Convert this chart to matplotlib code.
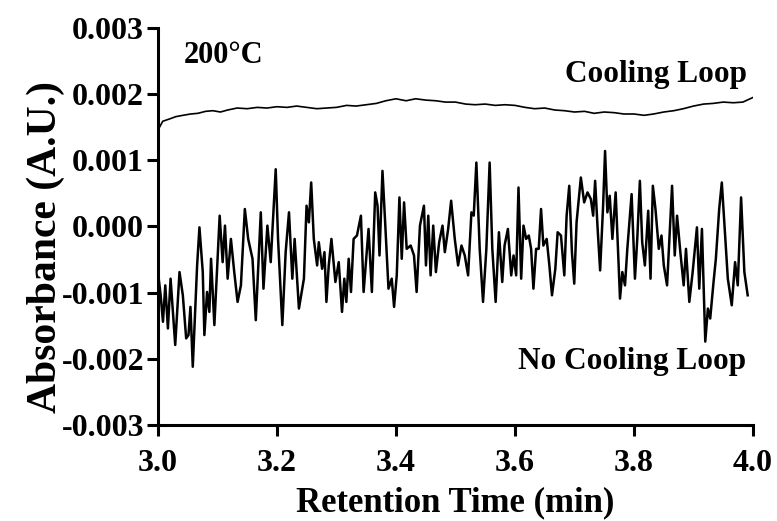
import matplotlib
matplotlib.use("Agg")
import matplotlib.pyplot as plt

# No Cooling Loop trace (time in min, absorbance in milli-A.U.)
t_noisy = [
    3.0000, 3.0045, 3.0084, 3.0123, 3.0167, 3.0212, 3.0251, 3.0290, 3.0362, 3.0418,
    3.0474, 3.0513, 3.0546, 3.0585, 3.0658, 3.0697, 3.0753, 3.0780, 3.0825, 3.0864,
    3.0892, 3.0948, 3.0992, 3.1037, 3.1087, 3.1126, 3.1171, 3.1226, 3.1282, 3.1338,
    3.1394, 3.1460, 3.1516, 3.1589, 3.1644, 3.1728, 3.1773, 3.1839, 3.1895, 3.1979,
    3.2018, 3.2090, 3.2146, 3.2202, 3.2258, 3.2297, 3.2369, 3.2453, 3.2497, 3.2536,
    3.2575, 3.2619, 3.2675, 3.2703, 3.2759, 3.2798, 3.2831, 3.2870, 3.2915, 3.2982,
    3.3038, 3.3093, 3.3132, 3.3166, 3.3205, 3.3244, 3.3288, 3.3344, 3.3411, 3.3456,
    3.3539, 3.3595, 3.3651, 3.3690, 3.3723, 3.3773, 3.3818, 3.3874, 3.3929, 3.3968,
    3.4013, 3.4058, 3.4097, 3.4136, 3.4180, 3.4247, 3.4303, 3.4347, 3.4403, 3.4470,
    3.4504, 3.4543, 3.4582, 3.4626, 3.4671, 3.4726, 3.4782, 3.4821, 3.4877, 3.4927,
    3.4988, 3.5044, 3.5101, 3.5156, 3.5212, 3.5268, 3.5307, 3.5351, 3.5407, 3.5463,
    3.5519, 3.5574, 3.5619, 3.5675, 3.5730, 3.5786, 3.5825, 3.5881, 3.5937, 3.5976,
    3.6020, 3.6059, 3.6104, 3.6143, 3.6188, 3.6232, 3.6271, 3.6310, 3.6355, 3.6399,
    3.6438, 3.6477, 3.6533, 3.6578, 3.6622, 3.6678, 3.6717, 3.6773, 3.6829, 3.6868,
    3.6912, 3.6957, 3.6996, 3.7035, 3.7107, 3.7163, 3.7219, 3.7275, 3.7314, 3.7347,
    3.7386, 3.7431, 3.7481, 3.7514, 3.7553, 3.7592, 3.7637, 3.7692, 3.7765, 3.7804,
    3.7849, 3.7888, 3.7960, 3.8016, 3.8055, 3.8099, 3.8138, 3.8183, 3.8239, 3.8278,
    3.8317, 3.8361, 3.8417, 3.8462, 3.8501, 3.8556, 3.8595, 3.8640, 3.8685, 3.8724,
    3.8779, 3.8835, 3.8874, 3.8930, 3.8986, 3.9058, 3.9097, 3.9142, 3.9198, 3.9242,
    3.9281, 3.9337, 3.9376, 3.9432, 3.9476, 3.9521, 3.9577, 3.9643, 3.9699, 3.9744,
    3.9800, 3.9855, 3.9911,
]
a_noisy = [
    -0.689, -1.040, -1.440, -0.890, -1.541, -0.789, -1.291, -1.791, -0.689, -1.040,
    -1.691, -1.641, -1.215, -2.120, -0.589, -0.013, -0.689, -1.641, -0.990, -1.291,
    -0.488, -1.490, -0.689, 0.163, -0.539, 0.013, -0.789, -0.188, -0.689, -1.140,
    -0.890, 0.264, -0.188, -0.488, -1.416, 0.214, -0.940, 0.013, -0.539, 0.865,
    -0.188, -1.490, -0.388, 0.214, -0.789, -0.188, -1.241, -0.789, 0.314, 0.063,
    0.665, -0.188, -0.589, -0.238, -0.639, -0.388, -1.140, -0.589, -0.188, -0.839,
    -0.539, -1.291, -0.789, -1.140, -0.488, -0.990, -0.188, -0.137, 0.163, -0.990,
    -0.037, -0.990, 0.515, 0.314, -0.438, 0.840, 0.063, -0.940, -0.789, -1.215,
    -0.739, 0.439, -0.488, 0.364, -0.338, -0.288, -0.438, -0.990, 0.013, 0.314,
    -0.589, 0.163, -0.739, 0.013, -0.689, -0.238, 0.013, -0.388, -0.037, 0.389,
    -0.188, -0.589, -0.288, -0.438, -0.739, 0.214, 0.164, 0.966, -0.338, -1.140,
    -0.338, 0.966, -0.338, -1.140, -0.087, -0.839, -0.288, -0.037, -0.739, -0.438,
    -0.739, 0.589, -0.789, 0.013, -0.188, -0.137, -0.338, -0.940, -0.338, -0.338,
    0.264, -0.288, -0.188, -0.589, -1.040, -0.639, -0.087, -0.137, -0.739, 0.163,
    0.615, -0.388, -0.864, 0.063, 0.740, 0.364, 0.515, 0.414, 0.163, 0.690,
    0.013, -0.664, 0.314, 1.141, 0.214, 0.464, -0.188, 0.515, -1.090, -0.689,
    -0.890, -0.338, 0.489, -0.789, -0.188, 0.690, -0.238, -0.589, 0.238, -0.789,
    0.615, 0.264, -0.338, -0.137, -0.589, -0.890, -0.188, 0.615, -0.438, 0.163,
    -0.388, -0.890, -0.338, -1.140, -0.689, -0.013, -0.940, -0.037, -1.740, -1.241,
    -1.391, -0.839, -0.488, 0.264, 0.665, 0.013, -0.789, -1.191, -0.539, -0.890,
    0.439, -0.689, -1.040,
]

# Cooling Loop trace (time in min, absorbance in milli-A.U.)
t_cool = [
    3.000, 3.002, 3.008, 3.021, 3.030, 3.042, 3.055, 3.067, 3.080, 3.092,
    3.105, 3.117, 3.133, 3.150, 3.167, 3.183, 3.200, 3.217, 3.233, 3.250,
    3.267, 3.283, 3.300, 3.317, 3.333, 3.350, 3.367, 3.383, 3.400, 3.417,
    3.433, 3.450, 3.467, 3.483, 3.500, 3.517, 3.533, 3.550, 3.567, 3.583,
    3.600, 3.617, 3.633, 3.650, 3.667, 3.683, 3.700, 3.717, 3.733, 3.750,
    3.767, 3.783, 3.800, 3.817, 3.833, 3.850, 3.867, 3.883, 3.900, 3.917,
    3.933, 3.950, 3.967, 3.983, 4.000,
]
a_cool = [
    1.42, 1.49, 1.59, 1.63, 1.66, 1.68, 1.70, 1.71, 1.74, 1.75,
    1.73, 1.76, 1.79, 1.78, 1.80, 1.79, 1.81, 1.80, 1.82, 1.80,
    1.78, 1.79, 1.80, 1.83, 1.82, 1.84, 1.86, 1.90, 1.93, 1.90,
    1.93, 1.91, 1.90, 1.88, 1.88, 1.85, 1.84, 1.85, 1.83, 1.84,
    1.83, 1.80, 1.78, 1.79, 1.76, 1.75, 1.73, 1.74, 1.71, 1.73,
    1.72, 1.70, 1.70, 1.68, 1.70, 1.73, 1.75, 1.78, 1.82, 1.85,
    1.86, 1.88, 1.87, 1.88, 1.95,
]

x_ticks = [3.0, 3.2, 3.4, 3.6, 3.8, 4.0]
y_ticks = [-3, -2, -1, 0, 1, 2, 3]
y_tick_labels = ["-0.003", "-0.002", "-0.001", "0.000", "0.001", "0.002", "0.003"]

plt.rcParams["font.family"] = ["Liberation Serif", "DejaVu Serif"]
plt.rcParams["font.weight"] = "bold"

fig = plt.figure(figsize=(7.77, 5.21), dpi=100)
ax = fig.add_axes([0.2033, 0.1843, 0.7658, 0.762])

ax.plot(t_noisy, a_noisy, color="black", lw=1.8)
ax.plot(t_cool, a_cool, color="black", lw=1.2)

ax.set_xlim(3.0, 4.0)
ax.set_ylim(-3, 3)
ax.set_xticks(x_ticks)
ax.set_xticklabels([f"{v:.1f}" for v in x_ticks])
ax.set_yticks(y_ticks)
ax.set_yticklabels(y_tick_labels)

for side in ["top", "right"]:
    ax.spines[side].set_visible(False)
for side in ["left", "bottom"]:
    ax.spines[side].set_linewidth(2.2)
ax.tick_params(direction="out", length=8, width=2.2, labelsize=23)
ax.tick_params(axis="x", pad=9)
ax.tick_params(axis="y", pad=2)
for lab in ax.get_xticklabels() + ax.get_yticklabels():
    lab.set_fontweight("bold")

ax.set_xlabel("Retention Time (min)", fontsize=25, fontweight="bold")
ax.set_ylabel("Absorbance (A.U.)", fontsize=30, fontweight="bold")
ax.xaxis.set_label_coords(0.5, -0.155)
ax.yaxis.set_label_coords(-0.156, 0.448)

ax.text(3.044, 2.59, "200\u00b0C", fontsize=22, fontweight="bold", va="center", ha="left")
ax.text(3.99, 2.29, "Cooling Loop", fontsize=22.5, fontweight="bold", va="center", ha="right")
ax.text(3.988, -2.04, "No Cooling Loop", fontsize=22.5, fontweight="bold", va="center", ha="right")

fig.savefig("out.png", dpi=100)
